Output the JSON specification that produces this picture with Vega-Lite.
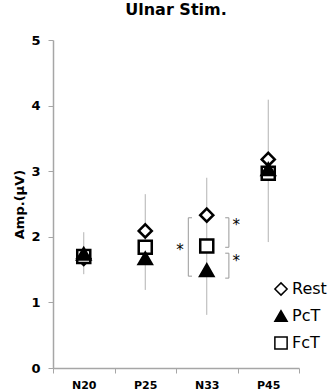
{
  "$schema": "https://vega.github.io/schema/vega-lite/v6.json",
  "autosize": "none",
  "width": 246,
  "height": 328,
  "padding": {"left": 53, "top": 40, "right": 36, "bottom": 24},
  "background": "white",
  "config": {"view": {"stroke": null}, "font": "DejaVu Sans"},
  "title": {"text": "Ulnar Stim.", "fontSize": 16, "fontWeight": "bold", "font": "DejaVu Sans", "color": "black", "offset": 16, "anchor": "middle"},
  "datasets": {
    "points": [
      {"cat": "N20", "pos": 1, "series": "Rest", "val": 1.67},
      {"cat": "N20", "pos": 1, "series": "FcT", "val": 1.70},
      {"cat": "N20", "pos": 1, "series": "PcT", "val": 1.74},
      {"cat": "P25", "pos": 2, "series": "Rest", "val": 2.09},
      {"cat": "P25", "pos": 2, "series": "FcT", "val": 1.84},
      {"cat": "P25", "pos": 2, "series": "PcT", "val": 1.67},
      {"cat": "N33", "pos": 3, "series": "Rest", "val": 2.33},
      {"cat": "N33", "pos": 3, "series": "FcT", "val": 1.86},
      {"cat": "N33", "pos": 3, "series": "PcT", "val": 1.49},
      {"cat": "P45", "pos": 4, "series": "Rest", "val": 3.18},
      {"cat": "P45", "pos": 4, "series": "FcT", "val": 2.97},
      {"cat": "P45", "pos": 4, "series": "PcT", "val": 3.03}
    ],
    "errors": [
      {"cat": "N20", "pos": 1, "val": 1.43, "val2": 2.07},
      {"cat": "P25", "pos": 2, "val": 1.19, "val2": 2.65},
      {"cat": "N33", "pos": 3, "val": 0.81, "val2": 2.9},
      {"cat": "P45", "pos": 4, "val": 1.92, "val2": 4.09}
    ],
    "brackets": [
      {"pos": 2.7, "pos2": 2.7, "val": 1.40, "val2": 2.29},
      {"pos": 2.7, "pos2": 2.76, "val": 2.29, "val2": 2.29},
      {"pos": 2.7, "pos2": 2.76, "val": 1.40, "val2": 1.40},
      {"pos": 3.36, "pos2": 3.36, "val": 1.84, "val2": 2.29},
      {"pos": 3.30, "pos2": 3.36, "val": 2.29, "val2": 2.29},
      {"pos": 3.30, "pos2": 3.36, "val": 1.84, "val2": 1.84},
      {"pos": 3.36, "pos2": 3.36, "val": 1.37, "val2": 1.75},
      {"pos": 3.30, "pos2": 3.36, "val": 1.75, "val2": 1.75},
      {"pos": 3.30, "pos2": 3.36, "val": 1.37, "val2": 1.37}
    ],
    "stars": [
      {"pos": 2.565, "val": 1.84, "label": "*"},
      {"pos": 3.48, "val": 2.22, "label": "*"},
      {"pos": 3.48, "val": 1.67, "label": "*"}
    ]
  },
  "encoding": {
    "x": {
      "field": "pos", "type": "quantitative",
      "scale": {"domain": [0.5, 4.5], "nice": false, "zero": false},
      "axis": {
        "title": null,
        "values": [0.5, 1, 1.5, 2, 2.5, 3, 3.5, 4, 4.5],
        "labelExpr": "datum.value % 1 === 0 ? ['N20','P25','N33','P45'][datum.value - 1] : ''",
        "tickOpacity": {"condition": {"test": "datum.value % 1 === 0", "value": 0}, "value": 1},
        "grid": false,
        "domainColor": "#a6a6a6",
        "tickColor": "#a6a6a6",
        "tickSize": 5,
        "domainWidth": 1.5,
        "labelFont": "DejaVu Sans",
        "labelFontWeight": "bold",
        "labelFontSize": 11,
        "labelColor": "black",
        "labelPadding": 6
      }
    },
    "y": {
      "field": "val", "type": "quantitative",
      "scale": {"domain": [0, 5], "nice": false},
      "axis": {
        "title": "Amp.(µV)",
        "values": [0, 1, 2, 3, 4, 5],
        "grid": false,
        "domainColor": "#a6a6a6",
        "tickColor": "#a6a6a6",
        "tickSize": 5,
        "domainWidth": 1.5,
        "labelFont": "DejaVu Sans",
        "labelFontWeight": "bold",
        "labelFontSize": 13,
        "labelColor": "black",
        "labelPadding": 8,
        "titleFont": "DejaVu Sans",
        "titleFontWeight": "bold",
        "titleFontSize": 13,
        "titleColor": "black",
        "titlePadding": 4
      }
    }
  },
  "layer": [
    {
      "data": {"name": "errors"},
      "mark": {"type": "rule", "color": "#b3b3b3", "strokeWidth": 1},
      "encoding": {"y2": {"field": "val2"}}
    },
    {
      "data": {"name": "brackets"},
      "mark": {"type": "rule", "color": "#999999", "strokeWidth": 1},
      "encoding": {"x2": {"field": "pos2"}, "y2": {"field": "val2"}}
    },
    {
      "data": {"name": "stars"},
      "mark": {"type": "text", "fontSize": 15, "font": "DejaVu Sans", "fill": "black", "baseline": "middle", "align": "center", "dy": 3},
      "encoding": {"text": {"field": "label"}}
    },
    {
      "data": {"name": "points"},
      "mark": {"type": "point", "filled": false, "stroke": "black", "strokeWidth": 2.5, "size": 170, "opacity": 1},
      "encoding": {
        "shape": {
          "field": "series", "type": "nominal",
          "scale": {"domain": ["Rest", "PcT", "FcT"], "range": ["diamond", "triangle-up", "square"]},
          "legend": {
            "title": null, "orient": "none", "legendX": 220, "legendY": 241,
            "labelFont": "DejaVu Sans", "labelFontSize": 16, "labelColor": "black",
            "symbolSize": 150, "rowPadding": 8, "labelOffset": 3, "padding": 0,
            "encode": {"symbols": {"update": {"stroke": {"value": "black"}, "strokeWidth": {"value": 2.5}}}}
          }
        },
        "fill": {
          "field": "series", "type": "nominal",
          "scale": {"domain": ["Rest", "PcT", "FcT"], "range": ["white", "black", "white"]},
          "legend": {
            "title": null, "orient": "none", "legendX": 220, "legendY": 241,
            "labelFont": "DejaVu Sans", "labelFontSize": 16, "labelColor": "black",
            "symbolSize": 150, "rowPadding": 8, "labelOffset": 3, "padding": 0,
            "encode": {"symbols": {"update": {"stroke": {"value": "black"}, "strokeWidth": {"value": 2.5}}}}
          }
        }
      }
    }
  ]
}
